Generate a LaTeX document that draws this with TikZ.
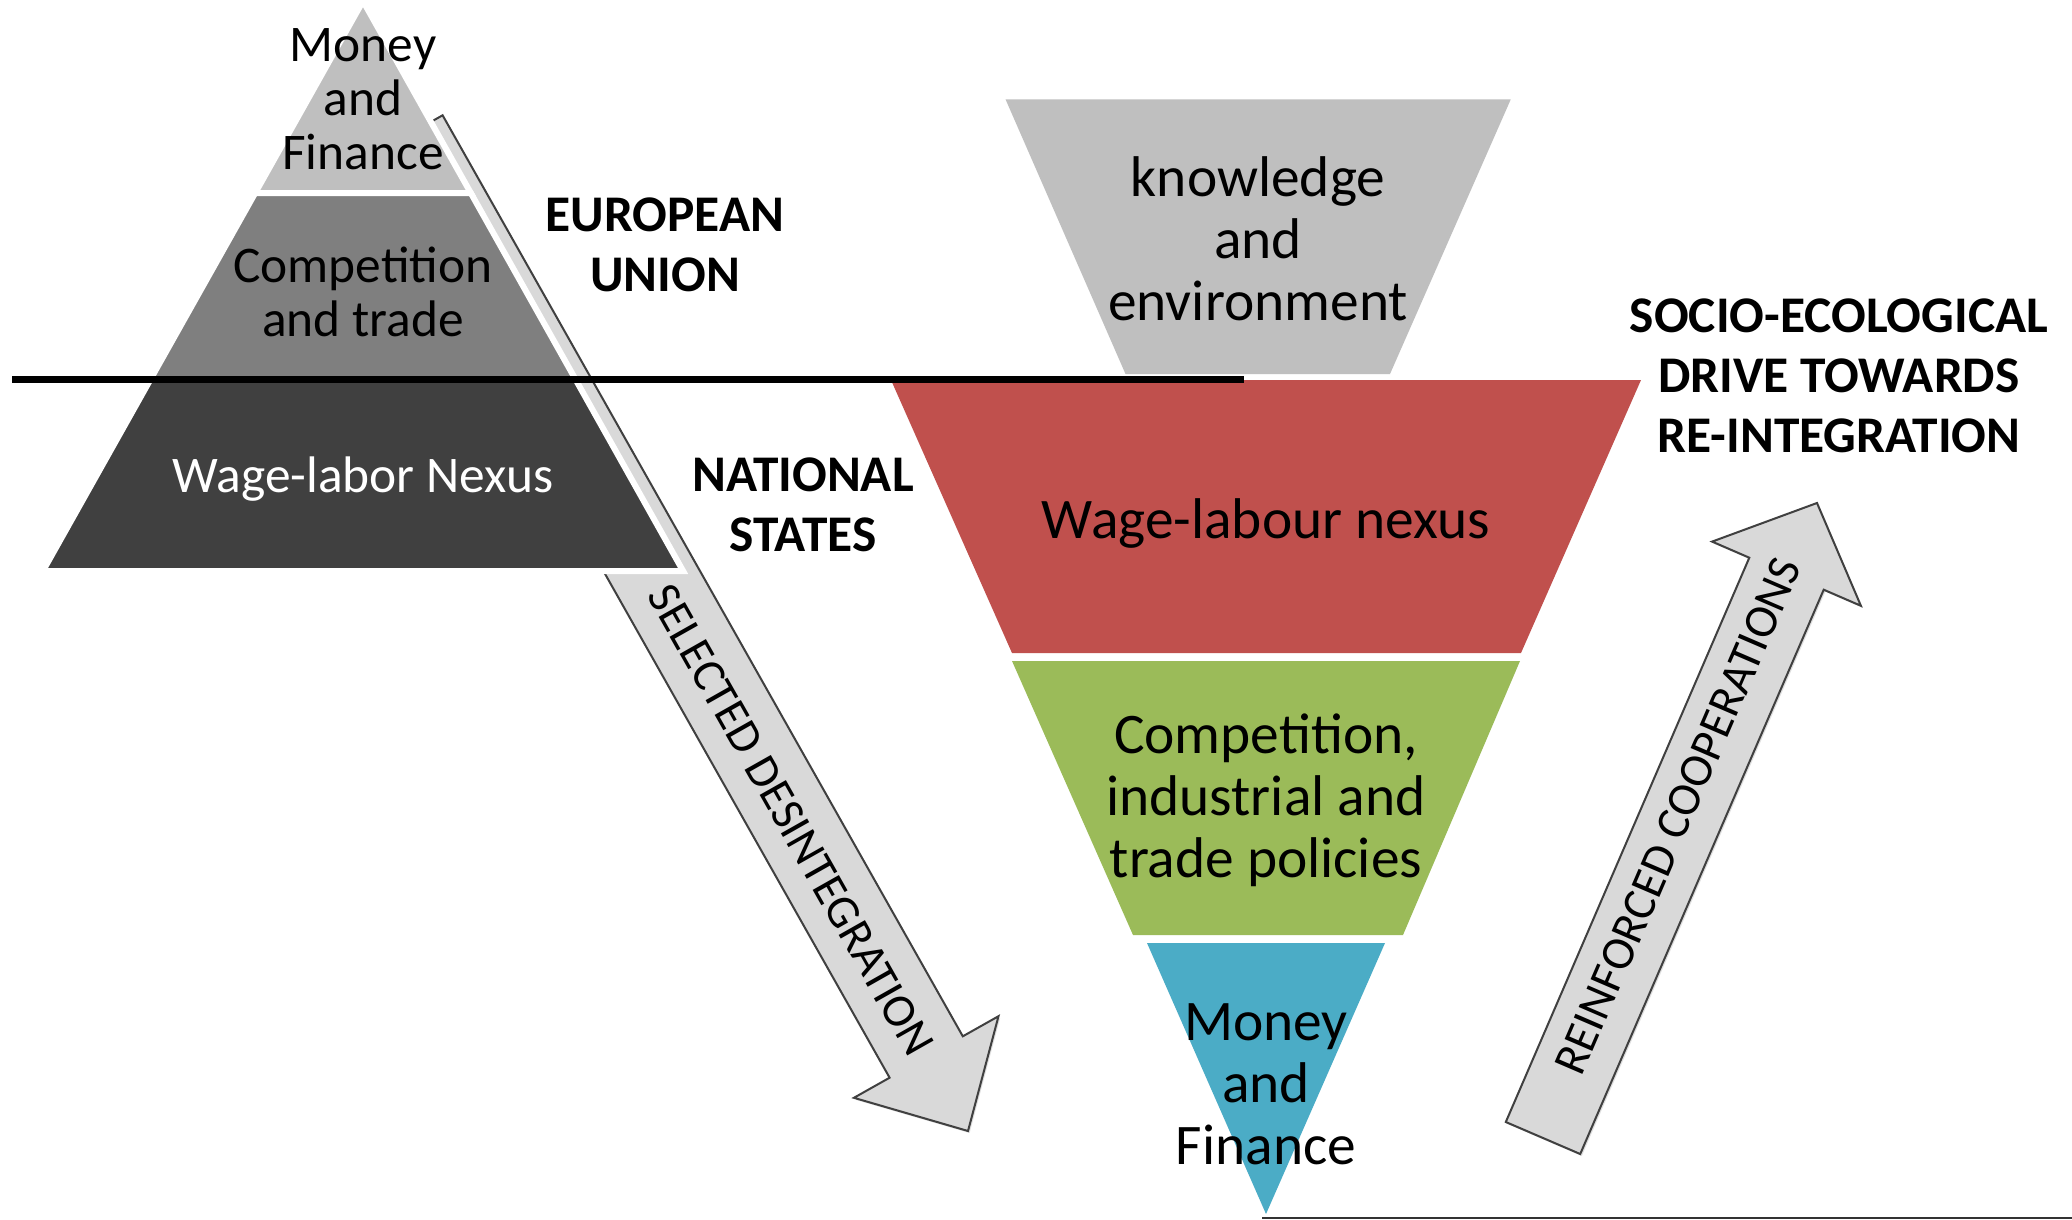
\documentclass[tikz,border=0pt]{standalone}
\usepackage{fontspec}
\setmainfont{Carlito}
\usetikzlibrary{shadows}
\definecolor{pyrA}{HTML}{BFBFBF}
\definecolor{pyrB}{HTML}{7F7F7F}
\definecolor{pyrC}{HTML}{404040}
\definecolor{redF}{HTML}{C0504D}
\definecolor{greenF}{HTML}{9BBB59}
\definecolor{blueF}{HTML}{4BACC6}
\definecolor{arrowF}{HTML}{D9D9D9}
\definecolor{arrowD}{HTML}{404040}
\begin{document}
\begin{tikzpicture}[x=0.5pt,y=-0.5pt,
  lpiece/.style={draw=white, line width=3pt, line join=miter},
  blockarrow/.style={fill=arrowF, draw=arrowD, line width=1pt, line join=miter,
    drop shadow={opacity=0.25, shadow xshift=0.8pt, shadow yshift=-1pt}},
  ltxt/.style={inner sep=0pt, align=center, font=\fontsize{25.7}{27}\selectfont},
  rtxt/.style={inner sep=0pt, align=center, font=\fontsize{28.7}{31}\selectfont},
  lbl/.style={inner sep=0pt, align=center, font=\bfseries\fontsize{25.7}{30}\selectfont},
  atxt/.style={inner sep=0pt, font=\fontsize{23.5}{27}\selectfont}
]
\useasboundingbox (0,0) rectangle (2072,1220);
\fill[white] (0,0) rectangle (2072,1220);

% selected desintegration arrow (behind the pyramid)
\path[blockarrow] (442.6,115.3) -- (962.8,1036.3) -- (998.5,1016.2) -- (968,1131)
  -- (853.9,1097.8) -- (889.6,1077.7) -- (369.4,156.7) -- cycle;

% left pyramid
\path[lpiece, fill=pyrA] (363,1) -- (470.8,193) -- (255.2,193) -- cycle;
\path[lpiece, fill=pyrB] (255.2,193) -- (470.8,193) -- (575.3,379) -- (150.7,379) -- cycle;
\path[lpiece, fill=pyrC] (150.7,379) -- (575.3,379) -- (683.1,571) -- (42.9,571) -- cycle;

% right inverted pyramid
\fill[pyrA] (1005.6,99.5) -- (1510.7,99.5) -- (1390,374) -- (1125.5,374) -- cycle;
\fill[redF] (891,380) -- (1641,380) -- (1521,653) -- (1012,653) -- cycle;
\fill[greenF] (1012,661) -- (1520,661) -- (1403,935) -- (1133,935) -- cycle;
\fill[blueF] (1147,943) -- (1385,943) -- (1266,1214) -- cycle;

% reinforced cooperations arrow
\path[blockarrow] (1505.8,1122) -- (1749.3,557.7) -- (1712.1,541.6) -- (1817,503)
  -- (1860.9,605.8) -- (1823.7,589.7) -- (1580.2,1154) -- cycle;

% lines
\coordinate (lineL) at (12,379);
\coordinate (lineR) at (1244,379);
\draw[line width=3.5pt] (lineL) -- (lineR);
\coordinate (baseL) at (1262,1218);
\coordinate (baseR) at (2072,1218);
\draw[line width=1pt, black!80] (baseL) -- (baseR);

% texts left pyramid
\node[ltxt] (money1) at (363,99) {Money\\and\\Finance};
\node[ltxt] (comp1) at (363,292) {Competition\\and trade};
\node[ltxt, text=white] (wage1) at (363,479) {Wage-labor Nexus};

% texts right pyramid
\node[rtxt] (know) at (1258,239) {knowledge\\and\\environment};
\node[rtxt] (wage2) at (1266,524) {Wage-labour nexus};
\node[rtxt] (comp2) at (1266,800) {Competition,\\industrial and\\trade policies};
\node[rtxt] (money2) at (1266,1084) {Money\\and\\Finance};

% labels
\node[lbl] (eu) at (665,245) {EUROPEAN\\UNION};
\node[lbl] (ns) at (803,505) {NATIONAL\\STATES};
\node[lbl] (socio) at (1839,376) {SOCIO-ECOLOGICAL\\DRIVE TOWARDS\\RE-INTEGRATION};

% arrow texts
\node[atxt, rotate=-60.5] (selected) at (791,820) {SELECTED DESINTEGRATION};
\node[atxt, rotate=66.7] (reinforced) at (1678,816) {REINFORCED COOPERATIONS};
\end{tikzpicture}
\end{document}
